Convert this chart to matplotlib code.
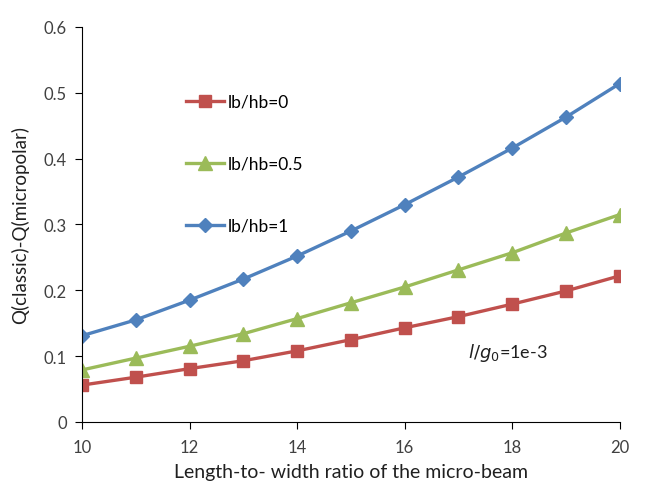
import matplotlib
matplotlib.use("Agg")
import matplotlib.pyplot as plt

x = [10, 11, 12, 13, 14, 15, 16, 17, 18, 19, 20]
lb0 = [0.056, 0.068, 0.081, 0.093, 0.108, 0.125, 0.143, 0.160, 0.179, 0.199, 0.222]
lb05 = [0.079, 0.097, 0.115, 0.134, 0.157, 0.181, 0.205, 0.231, 0.257, 0.287, 0.315]
lb1 = [0.131, 0.155, 0.185, 0.217, 0.252, 0.290, 0.330, 0.372, 0.416, 0.463, 0.514]
labels = ["lb/hb=0", "lb/hb=0.5", "lb/hb=1"]

plt.rcParams['font.family'] = ['Lato', 'DejaVu Sans']
fig = plt.figure(figsize=(6.45, 4.89), dpi=100)
ax = fig.add_axes([0.127, 0.135, 0.834, 0.808])

ax.plot(x, lb0, color="#C0504D", lw=2.4, marker="s", ms=8.5, label=labels[0])
ax.plot(x, lb05, color="#9BBB59", lw=2.4, marker="^", ms=9.5, label=labels[1])
ax.plot(x, lb1, color="#4F81BD", lw=2.4, marker="D", ms=7, label=labels[2])

ax.set_xlim(10, 20)
ax.set_ylim(0, 0.6)
ax.set_xticks([10, 12, 14, 16, 18, 20])
ax.set_yticks([0, 0.1, 0.2, 0.3, 0.4, 0.5, 0.6])
ax.set_yticklabels(["0", "0.1", "0.2", "0.3", "0.4", "0.5", "0.6"])
for s in ["top", "right"]:
    ax.spines[s].set_visible(False)
ax.tick_params(direction="out", length=5, labelsize=12, colors="#404040")
ax.tick_params(axis="x", pad=7)
ax.tick_params(axis="y", pad=6)
for s in ["left", "bottom"]:
    ax.spines[s].set_color("black")
ax.tick_params(color="black")

ax.set_xlabel("Length-to- width ratio of the micro-beam", fontsize=14, color="#202020", labelpad=6)
ax.set_ylabel("Q(classic)-Q(micropolar)", fontsize=13.5, color="#202020", labelpad=10)

ax.legend(loc="upper left", bbox_to_anchor=(0.165, 0.87), frameon=False,
          labelspacing=2.65, handlelength=2.2, handletextpad=0.2, fontsize=12.5)

ax.text(0.718, 0.165, r"$l/g_0$=1e-3", transform=ax.transAxes, fontsize=13, color="#202020")

fig.savefig("out.png", dpi=100)
